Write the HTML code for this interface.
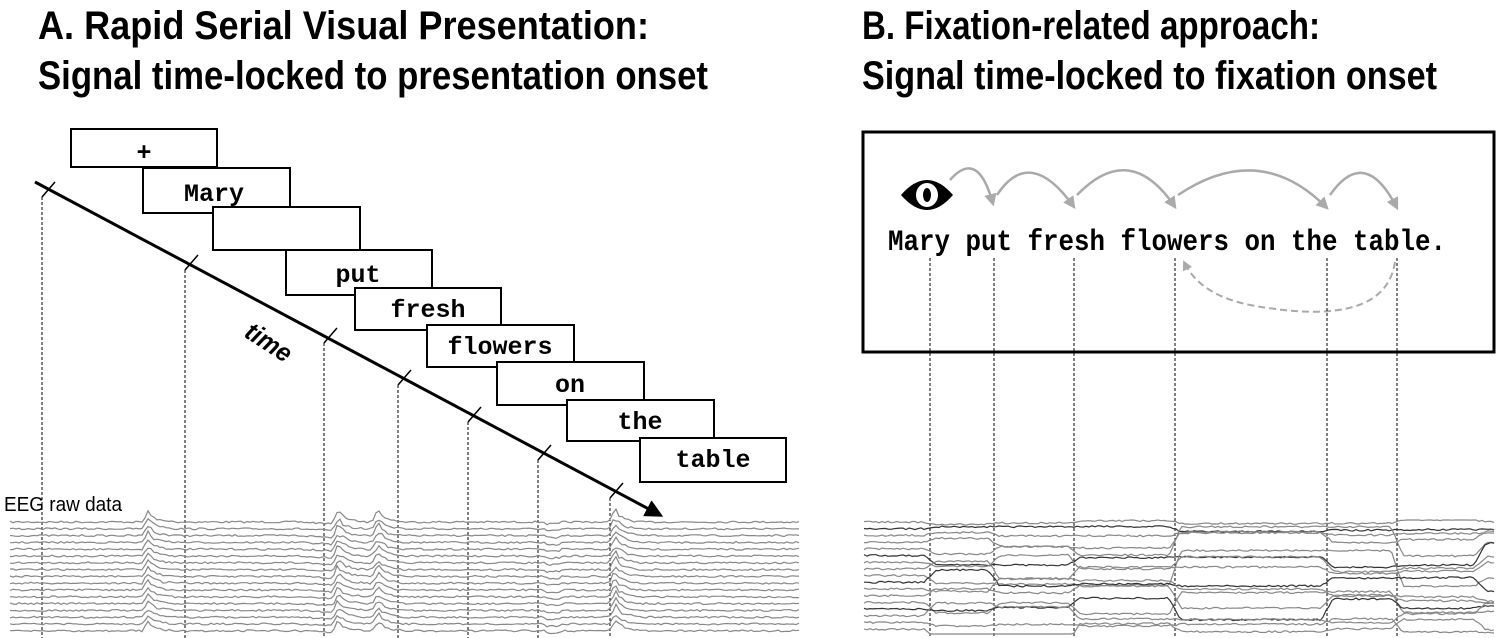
<!DOCTYPE html>
<html><head><meta charset="utf-8">
<style>
html,body{margin:0;padding:0;background:#fff;}
svg{display:block;}
.t{font-family:"Liberation Sans",sans-serif;font-weight:bold;font-size:40px;fill:#000;}
.w{font-family:"Liberation Mono",monospace;font-weight:bold;font-size:25px;fill:#000;text-anchor:middle;}
.box{fill:#fff;stroke:#000;stroke-width:2;}
.dl{stroke:#000;stroke-width:1;stroke-dasharray:3,2;}
</style></head>
<body>
<svg id="s" width="1500" height="638" viewBox="0 0 1500 638" xmlns="http://www.w3.org/2000/svg">
<defs>
<marker id="ah" viewBox="0 0 10 10" refX="8" refY="5" markerWidth="6" markerHeight="6" orient="auto"><path d="M0,0 L10,5 L0,10 z" fill="#000"/></marker>
<marker id="ga" viewBox="0 0 10 10" refX="8" refY="5" markerWidth="5" markerHeight="5" orient="auto"><path d="M0,0 L10,5 L0,10 z" fill="#aaa"/></marker>
</defs>
<text class="t" x="38" y="39" textLength="611" lengthAdjust="spacingAndGlyphs">A. Rapid Serial Visual Presentation:</text>
<text class="t" x="38" y="89" textLength="670" lengthAdjust="spacingAndGlyphs">Signal time-locked to presentation onset</text>
<text class="t" x="862" y="39" textLength="458" lengthAdjust="spacingAndGlyphs">B. Fixation-related approach:</text>
<text class="t" x="862" y="89" textLength="575" lengthAdjust="spacingAndGlyphs">Signal time-locked to fixation onset</text>

<g class="dl">
<line x1="42" y1="197" x2="42" y2="638"/>
<line x1="185" y1="270" x2="185" y2="638"/>
<line x1="324" y1="343" x2="324" y2="638"/>
<line x1="398" y1="385" x2="398" y2="638"/>
<line x1="468" y1="422" x2="468" y2="638"/>
<line x1="538" y1="460" x2="538" y2="638"/>
<line x1="610" y1="498" x2="610" y2="638"/>
</g>
<g stroke="#000" stroke-width="1.5">
<line x1="42" y1="197" x2="55" y2="182"/>
<line x1="185" y1="270" x2="198" y2="255"/>
<line x1="324" y1="343" x2="337" y2="328"/>
<line x1="398" y1="385" x2="411" y2="370"/>
<line x1="468" y1="422" x2="481" y2="407"/>
<line x1="538" y1="460" x2="551" y2="445"/>
<line x1="610" y1="498" x2="623" y2="483"/>
</g>
<line x1="35" y1="182" x2="660" y2="515" stroke="#000" stroke-width="3" marker-end="url(#ah)"/>
<text x="0" y="0" transform="translate(243,336) rotate(33)" font-family="Liberation Sans,sans-serif" font-weight="bold" font-style="italic" font-size="26" textLength="50" lengthAdjust="spacingAndGlyphs">time</text>

<g>
<rect class="box" x="71" y="129" width="146" height="38"/><text class="w" x="144" y="160">+</text>
<rect class="box" x="143" y="168" width="147" height="45"/><text class="w" x="214" y="201">Mary</text>
<rect class="box" x="213" y="207" width="147" height="43"/>
<rect class="box" x="286" y="250" width="146" height="45"/><text class="w" x="358" y="282">put</text>
<rect class="box" x="355" y="288" width="146" height="42"/><text class="w" x="428" y="317">fresh</text>
<rect class="box" x="427" y="325" width="147" height="42"/><text class="w" x="500" y="354">flowers</text>
<rect class="box" x="497" y="362" width="147" height="43"/><text class="w" x="570" y="392">on</text>
<rect class="box" x="567" y="400" width="147" height="41"/><text class="w" x="640" y="429">the</text>
<rect class="box" x="640" y="438" width="146" height="44"/><text class="w" x="713" y="467">table</text>
</g>
<text x="4" y="511" font-family="Liberation Sans,sans-serif" font-size="20" textLength="118" lengthAdjust="spacingAndGlyphs">EEG raw data</text>

<rect x="863" y="132" width="631" height="220" fill="none" stroke="#000" stroke-width="3"/>
<g transform="translate(927,195)">
<path d="M-26,0 Q0,-30 26,0 Q0,30 -26,0 z" fill="#000"/>
<ellipse cx="0" cy="0" rx="11" ry="12" fill="#fff"/>
<ellipse cx="0" cy="0" rx="4" ry="7" fill="#000"/>
</g>
<g fill="none" stroke="#aaa" stroke-width="2.5">
<path d="M950,180 Q978,148 993,204" marker-end="url(#ga)"/>
<path d="M997,195 Q1030,145 1074,207" marker-end="url(#ga)"/>
<path d="M1077,195 Q1130,140 1175,207" marker-end="url(#ga)"/>
<path d="M1178,195 Q1260,140 1327,208" marker-end="url(#ga)"/>
<path d="M1330,195 Q1365,145 1397,208" marker-end="url(#ga)"/>
<path d="M1395,262 Q1385,330 1250,305 Q1200,295 1184,262" stroke-dasharray="7,4" stroke-width="2" marker-end="url(#ga)"/>
</g>
<text x="888" y="250" font-family="Liberation Mono,monospace" font-weight="bold" font-size="30" textLength="558" lengthAdjust="spacingAndGlyphs">Mary put fresh flowers on the table.</text>
<g class="dl">
<line x1="930" y1="258" x2="930" y2="638"/>
<line x1="994" y1="258" x2="994" y2="638"/>
<line x1="1074" y1="258" x2="1074" y2="638"/>
<line x1="1175" y1="258" x2="1175" y2="638"/>
<line x1="1327" y1="258" x2="1327" y2="638"/>
<line x1="1397" y1="258" x2="1397" y2="638"/>
</g>
<g id="eegL" fill="none" stroke="#888" stroke-width="1.2"></g>
<g id="eegR" fill="none" stroke-width="1.2"></g>
</svg>
<script>
(function(){
var seed=7;function r(){seed=(seed*16807)%2147483647;return seed/2147483647;}
var NS="http://www.w3.org/2000/svg";
var gL=document.getElementById("eegL"),gR=document.getElementById("eegR");
var bumps=[[148,1],[338,1.1],[378,1.2],[615,1.3]];
for(var i=0;i<17;i++){
 var y0=522+i*6.8,d="";
 for(var x=10;x<=800;x+=3){
  var y=y0+(r()-0.5)*1.8;
  for(var b=0;b<bumps.length;b++){var dx=x-bumps[b][0];if(dx>-6&&dx<25){y-= (dx<0?(dx+6)/6:Math.exp(-dx/8))*11*bumps[b][1]*(0.6+0.4*r());}}
  if(x>300&&x<335)y+=(x-300)/35*2; if(x>545&&x<560)y+=2;
  d+=(x==10?"M":"L")+x+","+y.toFixed(1)+" ";
 }
 var p=document.createElementNS(NS,"path");p.setAttribute("d",d);gL.appendChild(p);
}
var tr=[900,930,994,1074,1175,1327,1397,1480];
for(var i=0;i<17;i++){
 var y0=522+i*6.7,d="",offs=[];
 for(var k=0;k<tr.length;k++)offs.push((r()-0.5)*(i<3?6:26));
 offs[0]=0;
 if(i==4){offs[4]=-22;offs[5]=-22;} if(i==8){offs[4]=-25;offs[5]=-25;}
 for(var x=864;x<=1495;x+=3){
  var off=0;for(var k=0;k<tr.length;k++){if(x>=tr[k]+6)off=offs[k];else if(x>tr[k]-6){var prev=k>0?offs[k-1]:0;off=prev+(offs[k]-prev)*(x-tr[k]+6)/12;break;}else break;}
  var y=Math.max(520,Math.min(634,y0+off+(r()-0.5)*1.8));
  d+=(x==864?"M":"L")+x+","+y.toFixed(1)+" ";
 }
 var p=document.createElementNS(NS,"path");p.setAttribute("d",d);p.setAttribute("stroke",(i%4==1)?"#333":"#888");gR.appendChild(p);
}
})();
</script>
</body></html>
